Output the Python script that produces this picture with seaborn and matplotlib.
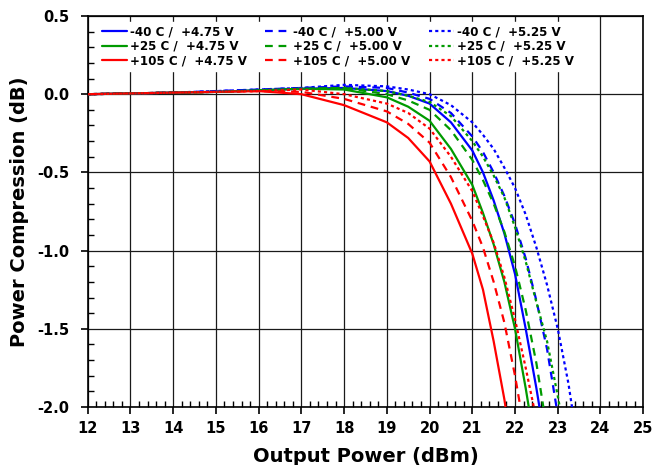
import numpy as np
import pandas as pd
import matplotlib
matplotlib.use("Agg")
import matplotlib.pyplot as plt
from matplotlib.ticker import MultipleLocator, FormatStrFormatter
import seaborn as sns

# Output power grid (dBm) shared by every trace
power = [12, 13, 14, 15, 16, 17, 18, 19, 19.5, 20, 20.5, 21, 21.25, 21.5,
         21.75, 22, 22.25, 22.5, 22.75, 23, 23.25, 23.5]

nan = np.nan
# Power compression (dB)
m40_475 = [0.0, 0.005, 0.01, 0.015, 0.025, 0.035, 0.04, 0.02, -0.01, -0.06, -0.18,
           -0.36, -0.5, -0.68, -0.89, -1.15, -1.5, -1.88, -2.3, nan, nan, nan]
m40_500 = [0.0, 0.005, 0.01, 0.02, 0.03, 0.04, 0.05, 0.04, 0.01, -0.03, -0.12,
           -0.27, -0.37, -0.5, -0.65, -0.83, -1.05, -1.32, -1.63, -2.05, nan, nan]
m40_525 = [0.0, 0.005, 0.01, 0.02, 0.03, 0.04, 0.06, 0.05, 0.03, 0.0, -0.07,
           -0.18, -0.26, -0.35, -0.47, -0.6, -0.77, -0.98, -1.22, -1.5, -1.85, -2.3]
p25_475 = [0.0, 0.005, 0.01, 0.015, 0.025, 0.035, 0.03, -0.02, -0.08, -0.17, -0.35,
           -0.58, -0.76, -0.96, -1.2, -1.5, -1.88, -2.3, nan, nan, nan, nan]
p25_500 = [0.0, 0.005, 0.01, 0.015, 0.025, 0.035, 0.04, 0.0, -0.04, -0.1, -0.23,
           -0.42, -0.55, -0.7, -0.88, -1.1, -1.38, -1.72, -2.15, nan, nan, nan]
p25_525 = [0.0, 0.005, 0.01, 0.015, 0.025, 0.035, 0.04, 0.02, -0.01, -0.05, -0.14,
           -0.3, -0.4, -0.52, -0.66, -0.85, -1.07, -1.33, -1.58, -1.93, -2.3, nan]
p105_475 = [0.0, 0.005, 0.01, 0.015, 0.02, 0.0, -0.07, -0.18, -0.28, -0.43, -0.7,
            -1.02, -1.25, -1.58, -1.95, -2.4, nan, nan, nan, nan, nan, nan]
p105_500 = [0.0, 0.005, 0.01, 0.015, 0.02, 0.015, -0.03, -0.11, -0.19, -0.31, -0.53,
            -0.81, -0.98, -1.2, -1.46, -1.8, -2.2, nan, nan, nan, nan, nan]
p105_525 = [0.0, 0.005, 0.01, 0.015, 0.02, 0.03, 0.0, -0.06, -0.12, -0.22, -0.4,
            -0.62, -0.78, -0.95, -1.17, -1.44, -1.75, -2.08, nan, nan, nan, nan]

temps = ["-40 C", "+25 C", "+105 C"]
volts = ["+4.75 V", "+5.00 V", "+5.25 V"]
series = {
    ("-40 C", "+4.75 V"): m40_475, ("-40 C", "+5.00 V"): m40_500, ("-40 C", "+5.25 V"): m40_525,
    ("+25 C", "+4.75 V"): p25_475, ("+25 C", "+5.00 V"): p25_500, ("+25 C", "+5.25 V"): p25_525,
    ("+105 C", "+4.75 V"): p105_475, ("+105 C", "+5.00 V"): p105_500, ("+105 C", "+5.25 V"): p105_525,
}

colors = {"-40 C": "#0000FF", "+25 C": "#009A00", "+105 C": "#FF0000"}
styles = {"+4.75 V": "-", "+5.00 V": (0, (3.5, 2.6)), "+5.25 V": (0, (1.4, 1.4))}

sns.set_theme(style="white")
plt.rcParams["font.family"] = ["DejaVu Sans"]
plt.rcParams["axes.unicode_minus"] = False
plt.rcParams["text.color"] = "black"
plt.rcParams["axes.labelcolor"] = "black"

fig = plt.figure(figsize=(6.55, 4.65), dpi=100)
ax = fig.add_axes([0.134, 0.1247, 0.848, 0.8409])

for v in volts:
    for t in temps:
        df = pd.DataFrame({"power": power, "comp": series[(t, v)]}).dropna()
        sns.lineplot(data=df, x="power", y="comp", ax=ax, color=colors[t],
                     linestyle=styles[v], linewidth=1.6, sort=False,
                     label=f"{t} /  {v}", zorder=3)

ax.set_xlim(12, 25)
ax.set_ylim(-2.0, 0.5)
ax.xaxis.set_major_locator(MultipleLocator(1))
ax.xaxis.set_minor_locator(MultipleLocator(0.2))
ax.yaxis.set_major_locator(MultipleLocator(0.5))
ax.yaxis.set_minor_locator(MultipleLocator(0.1))
ax.yaxis.set_major_formatter(FormatStrFormatter("%.1f"))

ax.grid(True, which="major", color="#1a1a1a", linewidth=0.9)
ax.tick_params(which="major", direction="out", length=5, width=1.2,
               labelsize=10.5, bottom=True, left=True, colors="black")
ax.tick_params(axis="y", which="major", pad=8)
ax.tick_params(axis="x", which="major", pad=5)
ax.tick_params(which="minor", direction="in", length=4, width=1.0,
               bottom=True, left=True, colors="black")
for lab in ax.get_xticklabels() + ax.get_yticklabels():
    lab.set_fontweight("bold")
for side in ["left", "bottom", "top", "right"]:
    ax.spines[side].set_color("black")
    ax.spines[side].set_linewidth(1.2)

ax.set_xlabel("Output Power (dBm)", fontsize=14, fontweight="bold", labelpad=8)
ax.set_ylabel("Power Compression (dB)", fontsize=14, fontweight="bold", labelpad=6)

leg = ax.legend(ncol=3, loc="upper left", bbox_to_anchor=(0.008, 1.0),
                frameon=True, framealpha=1.0, edgecolor="white", facecolor="white",
                prop={"weight": "bold", "size": 8.6}, handlelength=2.1,
                handletextpad=0.25, columnspacing=1.55, labelspacing=0.12,
                borderpad=0.3, fancybox=False)
leg.set_zorder(5)

fig.savefig("out.png", dpi=100)
